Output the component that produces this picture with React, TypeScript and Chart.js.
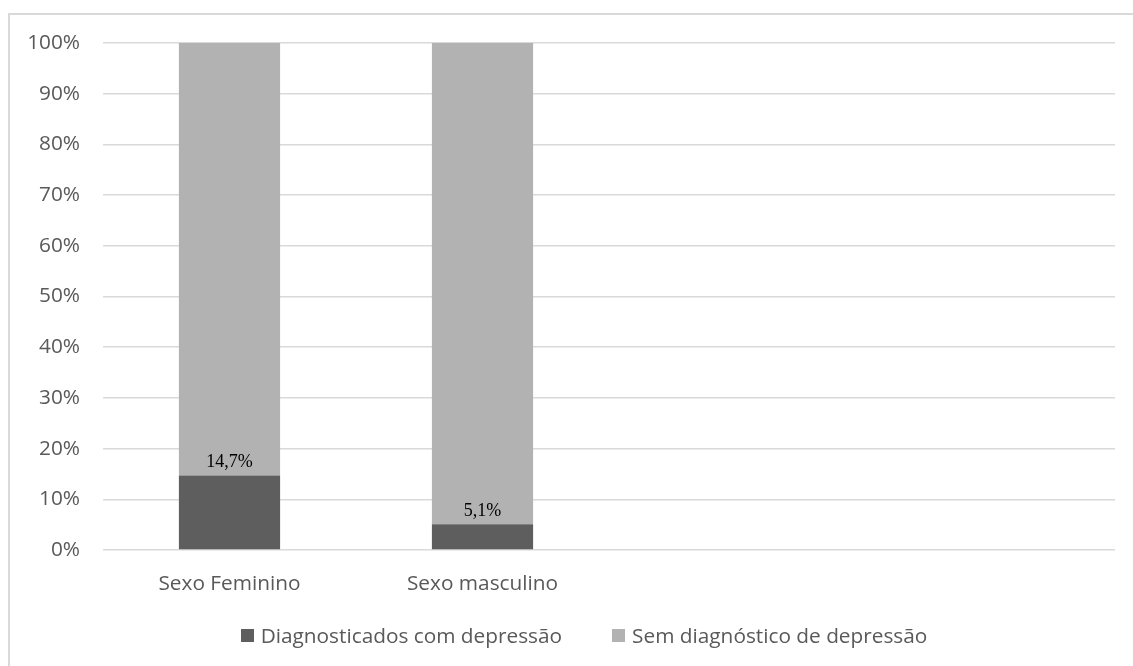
import React, { useEffect, useRef } from "react";
import { Chart, registerables } from "chart.js";

Chart.register(...registerables);

// Categories (the last two slots are left empty, as in the original worksheet layout)
const categories: string[] = ["Sexo Feminino", "Sexo masculino", "", ""];

// Percentages per group
const diagnosticados: (number | null)[] = [14.7, 5.1, null, null];
const semDiagnostico: (number | null)[] = [85.3, 94.9, null, null];

const seriesNames: string[] = [
  "Diagnosticados com depressão",
  "Sem diagnóstico de depressão",
];
const seriesColors: string[] = ["#5e5e5e", "#b2b2b2"];

const SANS = "'Open Sans', 'Noto Sans', sans-serif";
const SERIF = "'Liberation Serif', 'DejaVu Serif', serif";
const TEXT_GREY = "#595959";
const FONT_SIZE = 20.8;

const formatPct = (v: number) => v.toFixed(1).replace(".", ",") + "%";

// Writes the value of the first series just above each of its bar segments
const valueLabels = {
  id: "valueLabels",
  afterDatasetsDraw(chart: any) {
    const { ctx } = chart;
    const meta = chart.getDatasetMeta(0);
    const data = chart.data.datasets[0].data as (number | null)[];
    ctx.save();
    ctx.font = `18px ${SERIF}`;
    ctx.fillStyle = "#000000";
    ctx.textAlign = "center";
    ctx.textBaseline = "alphabetic";
    meta.data.forEach((bar: any, i: number) => {
      const v = data[i];
      if (v == null) return;
      ctx.fillText(formatPct(v), bar.x, bar.y - 8);
    });
    ctx.restore();
  },
};

export default function App() {
  const canvasRef = useRef<HTMLCanvasElement | null>(null);

  useEffect(() => {
    if (!canvasRef.current) return;
    const chart = new Chart(canvasRef.current, {
      type: "bar",
      data: {
        labels: categories,
        datasets: [
          {
            label: seriesNames[0],
            data: diagnosticados,
            backgroundColor: seriesColors[0],
            borderWidth: 0,
          },
          {
            label: seriesNames[1],
            data: semDiagnostico,
            backgroundColor: seriesColors[1],
            borderWidth: 0,
          },
        ],
      },
      options: {
        responsive: false,
        animation: false,
        devicePixelRatio: 1,
        datasets: {
          bar: { barPercentage: 0.4, categoryPercentage: 1 },
        },
        layout: { padding: { top: 43, right: 18, bottom: 70, left: 8 } },
        scales: {
          x: {
            stacked: true,
            grid: { display: false, drawTicks: false },
            border: { display: false },
            ticks: {
              color: TEXT_GREY,
              font: { family: SANS, size: FONT_SIZE },
              padding: 22,
              maxRotation: 0,
              autoSkip: false,
            },
            afterFit: (s: any) => {
              s.height = 46;
            },
          },
          y: {
            stacked: true,
            min: 0,
            max: 100,
            grid: { color: "#d9d9d9", lineWidth: 1.5, drawTicks: false },
            border: { display: false },
            ticks: {
              stepSize: 10,
              color: TEXT_GREY,
              font: { family: SANS, size: FONT_SIZE },
              padding: 23,
              callback: (v: any) => `${v}%`,
            },
            afterFit: (s: any) => {
              s.width = 95;
            },
          },
        },
        plugins: {
          legend: { display: false },
          tooltip: { enabled: false },
        },
      },
      plugins: [valueLabels],
    });
    return () => chart.destroy();
  }, []);

  return (
    <div
      style={{
        position: "fixed",
        left: 0,
        top: 0,
        width: 1133,
        height: 666,
        background: "#ffffff",
        overflow: "hidden",
      }}
    >
      <div
        style={{
          position: "absolute",
          left: 8,
          top: 13,
          width: 1200,
          height: 700,
          border: "2px solid #d9d9d9",
        }}
      />
      <canvas
        ref={canvasRef}
        width={1133}
        height={666}
        style={{ position: "absolute", left: 0, top: 0, width: 1133, height: 666 }}
      />
      {/* Series legend */}
      <div
        style={{
          position: "absolute",
          left: 0,
          width: 1168,
          top: 623,
          height: 24,
          display: "flex",
          justifyContent: "center",
          alignItems: "center",
          gap: 50,
          fontFamily: SANS,
          fontSize: FONT_SIZE,
          lineHeight: "24px",
          color: TEXT_GREY,
          whiteSpace: "nowrap",
        }}
      >
        {seriesNames.map((name, i) => (
          <div key={name} style={{ display: "flex", alignItems: "center" }}>
            <span
              style={{
                display: "inline-block",
                width: 13,
                height: 13,
                background: seriesColors[i],
                marginRight: 7,
              }}
            />
            <span>{name}</span>
          </div>
        ))}
      </div>
    </div>
  );
}
